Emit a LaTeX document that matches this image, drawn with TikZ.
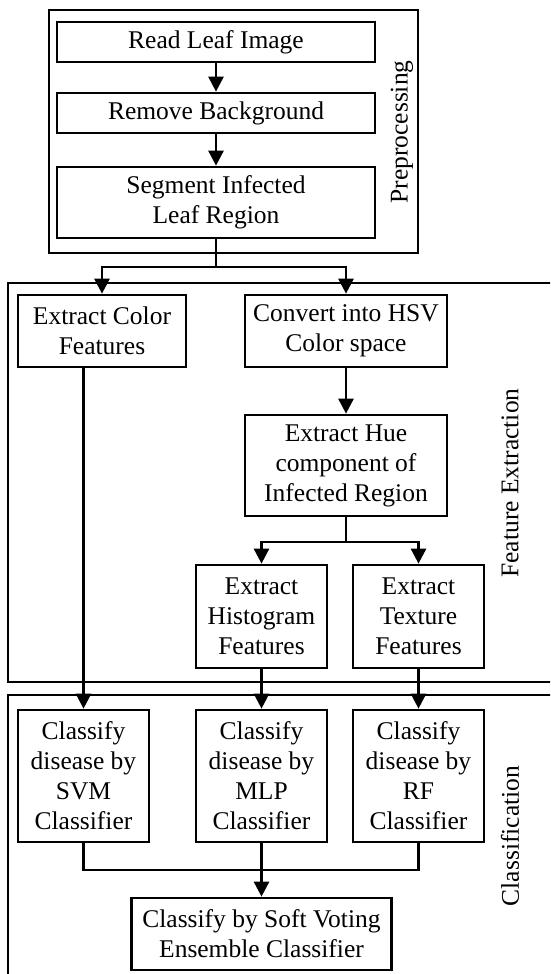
\documentclass[tikz,border=0pt]{standalone}
\usepackage{fontspec}
\setmainfont{Liberation Serif}
\usetikzlibrary{arrows.meta}
\begin{document}
\begin{tikzpicture}[x=1pt,y=-1pt,
  box/.style={draw,line width=2.7pt,align=center,inner sep=0pt,font=\fontsize{25.5}{30}\selectfont},
  grp/.style={draw,line width=2.7pt},
  lab/.style={rotate=90,font=\fontsize{25.5}{30}\selectfont,inner sep=0pt},
  ln/.style={line width=2.7pt},
  arr/.style={line width=2.7pt,-{Triangle[length=15pt,width=15pt]}}]
\useasboundingbox (0,0) rectangle (550,974);
\clip (0,0) rectangle (550,974);
\fill[white] (0,0) rectangle (550,974);
% group frames
\draw[grp] (49,10) rectangle (418,253);
\draw[grp] (8,283) rectangle (570,682);
\draw[grp] (8,695) rectangle (570,1000);
\node[lab] (lprep) at (402,132) {Preprocessing};
\node[lab] (lfe) at (510,483) {Feature Extraction};
\node[lab] (lcl) at (510,836) {Classification};
% nodes
\node[box,minimum width=318pt,minimum height=40pt] (read) at (216,42) {Read Leaf Image};
\node[box,minimum width=318pt,minimum height=40pt] (remove) at (216,113) {Remove Background};
\node[box,minimum width=318pt,minimum height=71pt] (segment) at (216,202.5) {Segment Infected\\Leaf Region};
\node[box,minimum width=168pt,minimum height=72pt] (color) at (102,331) {Extract Color\\Features};
\node[box,minimum width=202pt,minimum height=72pt] (convert) at (346,331) {Convert into HSV\\Color space};
\node[box,minimum width=202pt,minimum height=101pt] (hue) at (346,465.5) {Extract Hue\\component of\\Infected Region};
\node[box,minimum width=131pt,minimum height=103pt] (hist) at (261.5,616.5) {Extract\\Histogram\\Features};
\node[box,minimum width=131pt,minimum height=103pt] (tex) at (418.5,616.5) {Extract\\Texture\\Features};
\node[box,minimum width=131pt,minimum height=132pt] (svm) at (83.5,776) {Classify\\disease by\\SVM\\Classifier};
\node[box,minimum width=131pt,minimum height=132pt] (mlp) at (261.5,776) {Classify\\disease by\\MLP\\Classifier};
\node[box,minimum width=131pt,minimum height=132pt] (rf) at (418.5,776) {Classify\\disease by\\RF\\Classifier};
\node[box,minimum width=260pt,minimum height=72pt] (ens) at (261.5,934) {Classify by Soft Voting\\Ensemble Classifier};
% connectors
\draw[arr] (read) -- (remove);
\draw[arr] (remove) -- (segment);
\coordinate (s1) at (216,267);
\draw[ln] (segment.south) -- (s1);
\draw[arr] (s1) -| (color.north);
\draw[arr] (s1) -| (convert.north);
\draw[arr] (convert) -- (hue);
\coordinate (h1) at (346,542);
\draw[ln] (hue.south) -- (h1);
\draw[arr] (h1) -| (hist.north);
\draw[arr] (h1) -| (tex.north);
\draw[arr] (svm.north |- color.south) -- (svm.north);
\draw[arr] (hist) -- (mlp);
\draw[arr] (tex) -- (rf);
\coordinate (m1) at (261.5,870);
\draw[ln] (svm.south) |- (m1) -| (rf.south);
\draw[arr] (mlp.south) -- (ens.north);
\end{tikzpicture}
\end{document}
